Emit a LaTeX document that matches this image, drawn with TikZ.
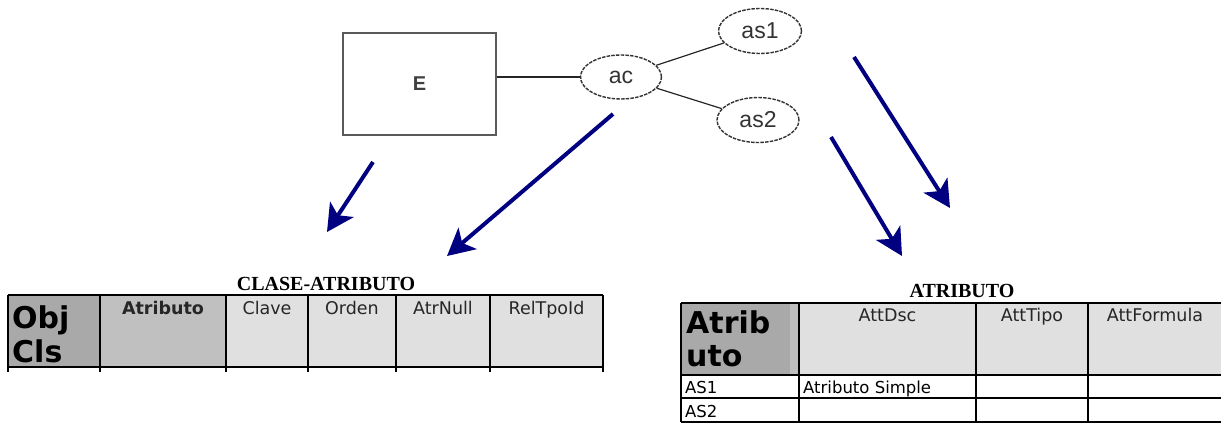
\documentclass[tikz,border=0pt]{standalone}
\usepackage{fontspec}
\setmainfont{DejaVu Sans}
\newfontfamily\titlefont{Liberation Serif}
\newfontfamily\diagfont{Liberation Sans}
\usetikzlibrary{arrows.meta,shapes.geometric}

\definecolor{navyarrow}{HTML}{000080}
\definecolor{keyfill}{HTML}{A9A9A9}
\definecolor{keystrip}{HTML}{BEBEBE}
\definecolor{midfill}{HTML}{C0C0C0}
\definecolor{lightfill}{HTML}{E0E0E0}
\definecolor{boxgray}{HTML}{5A5A5A}

\tikzset{
  entitybox/.style={draw=boxgray, line width=1.8pt, rectangle, minimum width=153pt, minimum height=102pt,
    font=\diagfont\bfseries\fontsize{20}{20}\selectfont, text=black!75},
  attrnode/.style={draw=black!80, line width=1.4pt, dash pattern=on 3.5pt off 1.2pt, ellipse, inner sep=0pt,
    font=\diagfont\fontsize{23}{23}\selectfont, text=black!80},
  link/.style={draw=black!85, line width=1.2pt},
  maparrow/.style={draw=navyarrow, line width=4pt, -{Stealth[length=27pt,width=28pt,inset=7pt]}},
  grid/.style={draw=black, line width=2.2pt},
  title/.style={font=\titlefont\bfseries\fontsize{20}{20}\selectfont, anchor=base, inner sep=0pt},
  headtxt/.style={font=\fontsize{17.5}{17.5}\selectfont, anchor=base, inner sep=0pt, text=black!85},
  headbold/.style={font=\bfseries\fontsize{17.5}{17.5}\selectfont, anchor=base, inner sep=0pt, text=black!85},
  bigkey/.style={font=\bfseries\fontsize{30}{30}\selectfont, anchor=base west, inner sep=0pt},
  celltxt/.style={font=\fontsize{16.5}{16.5}\selectfont, anchor=base west, inner sep=0pt},
}

\begin{document}
\begin{tikzpicture}[x=1pt,y=-1pt]
\useasboundingbox (0,0) rectangle (1221,423);

% ---------- ER fragment ----------
\node[entitybox] (E) at (419.5,84) {E};
\node[attrnode, minimum width=81pt, minimum height=44pt] (ac) at (621,77) {ac};
\node[attrnode, minimum width=83pt, minimum height=45pt] (as1) at (760,31) {as1};
\node[attrnode, minimum width=82pt, minimum height=45pt] (as2) at (758,120) {as2};
\draw[link] (ac.west) -- (ac.west -| E.east);
\draw[link] (ac) -- (as1);
\draw[link] (ac) -- (as2);

% ---------- mapping arrows ----------
\coordinate (e1) at (373,162);  \coordinate (e2) at (327,232);
\coordinate (c1) at (613,114);  \coordinate (c2) at (447,256);
\coordinate (s1) at (854,57);   \coordinate (s2) at (950,208);
\coordinate (t1) at (831,137);  \coordinate (t2) at (902,256);
\draw[maparrow] (e1) -- (e2);
\draw[maparrow] (c1) -- (c2);
\draw[maparrow] (s1) -- (s2);
\draw[maparrow] (t1) -- (t2);

% ---------- table CLASE-ATRIBUTO ----------
\node[title] (ttlA) at (326,290) {CLASE-ATRIBUTO};
\fill[keyfill]   (8,295) rectangle (100,367);
\fill[midfill]   (100,295) rectangle (226,367);
\fill[lightfill] (226,295) rectangle (603,367);
\draw[grid] (8,295) -- (603,295);
\draw[grid] (8,367) -- (603,367);
\foreach \cx in {8,100,226,308,396,490,603} {
  \draw[grid] (\cx,295) -- (\cx,372);
}
\node[bigkey] (objA) at (12,328) {Obj};
\node[bigkey] (objB) at (12,362) {Cls};
\node[headbold] (hAtr) at (163,314) {Atributo};
\node[headtxt] (hClave) at (267,314) {Clave};
\node[headtxt] (hOrden) at (352,314) {Orden};
\node[headtxt] (hNull) at (443,314) {AtrNull};
\node[headtxt] (hRel) at (546.5,314) {RelTpoId};

% ---------- table ATRIBUTO ----------
\node[title] (ttlB) at (962,297) {ATRIBUTO};
\fill[keyfill]   (681,303) rectangle (790,375);
\fill[keystrip]  (790,303) rectangle (799,375);
\fill[lightfill] (799,303) rectangle (1221,375);
\draw[grid] (681,303) -- (1224,303);
\draw[grid] (681,375) -- (1224,375);
\draw[grid] (681,398) -- (1224,398);
\draw[grid] (681,422) -- (1224,422);
\foreach \cx in {681,799,976,1088} {
  \draw[grid] (\cx,303) -- (\cx,422);
}
\node[bigkey] (kA) at (686,333) {Atrib};
\node[bigkey] (kB) at (686,366) {uto};
\node[headtxt] (hDsc) at (887.5,321) {AttDsc};
\node[headtxt] (hTipo) at (1032,321) {AttTipo};
\node[headtxt] (hForm) at (1155,321) {AttFormula};
\node[celltxt] (r1a) at (685,393) {AS1};
\node[celltxt] (r1b) at (803,393) {Atributo Simple};
\node[celltxt] (r2a) at (685,417) {AS2};
\end{tikzpicture}
\end{document}
